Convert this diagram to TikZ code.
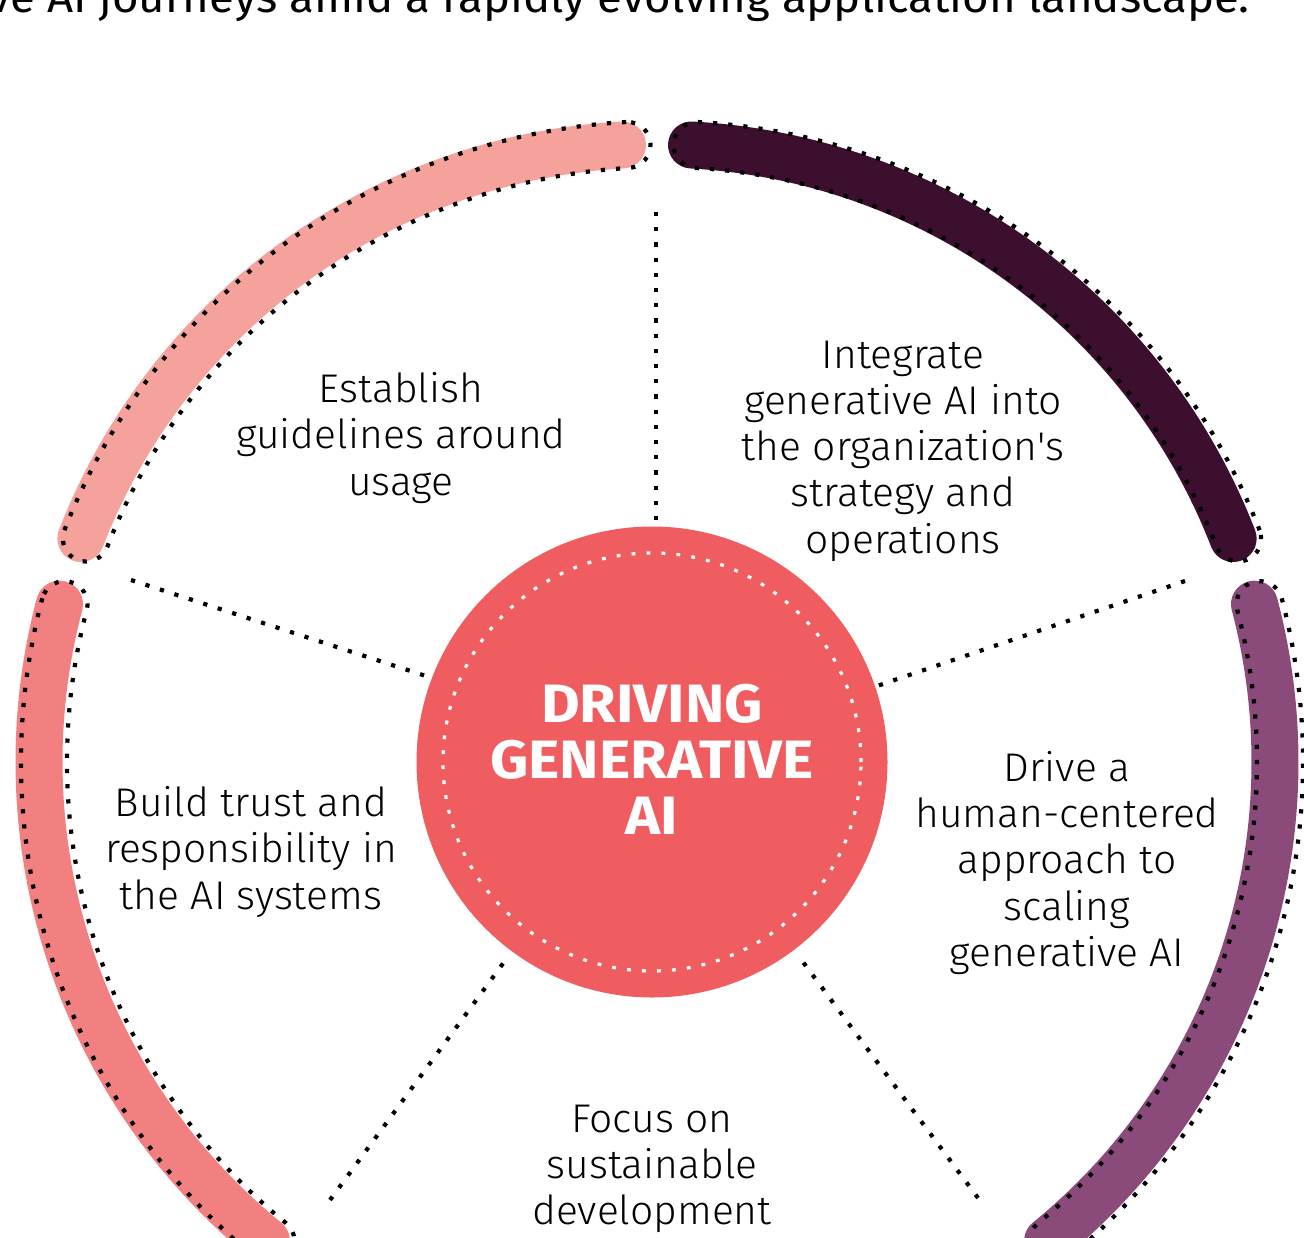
\documentclass[tikz,border=0pt]{standalone}
\usepackage{fontspec}
\setmainfont{Fira Sans}[UprightFont=* Light, BoldFont=* Bold]
\newfontfamily\titlefont{Fira Sans}[FakeStretch=1.06]
\newfontfamily\lightfont{Fira Sans Light}[FakeStretch=1.02]
\newfontfamily\corefont{Fira Sans Bold}[FakeStretch=1.1]
\usetikzlibrary{calc}
\definecolor{cA}{HTML}{F5A19C}
\definecolor{cB}{HTML}{F28080}
\definecolor{cD}{HTML}{8A4A7A}
\definecolor{cE}{HTML}{3D0F2E}
\definecolor{cCore}{HTML}{F05D60}
\newcommand\mybandarc[3]{%
  \draw[band, draw=#1] ($(Cb)+(#2:618)$) arc[start angle=#2, end angle=#3, radius=618];
  \draw[dotline] ($(Cd)+(#2:641)$) arc[start angle=#2, end angle=#3, radius=641]
     arc[start angle=#3, end angle=#3+180, radius=23]
     arc[start angle=#3, end angle=#2, radius=595]
     arc[start angle=#2+180, end angle=#2+360, radius=23] -- cycle;
}
\begin{document}
\begin{tikzpicture}[x=1pt,y=1pt,
  band/.style={line width=47pt, line cap=round},
  dotline/.style={draw=black, line width=4.2pt, dash pattern=on 4.2pt off 11pt},
  whitedots/.style={draw=white, line width=3.2pt, dash pattern=on 3.8pt off 11.2pt},
  lbl/.style={align=center, font=\lightfont\fontsize{40}{46.3}\selectfont, inner sep=0pt, text=black},
  coretext/.style={align=center, font=\corefont\fontsize{54}{56.3}\selectfont, inner sep=0pt, text=white},
]
\useasboundingbox (0,-1238) rectangle (1304,0);
\clip (0,-1238) rectangle (1304,0);
\coordinate (Cb) at (657,-762);
\coordinate (Cd) at (662,-762);
\coordinate (C) at (652,-762);

% title (cut by the top edge)
\node[anchor=base east, inner sep=0pt, font=\titlefont\fontsize{43}{48}\selectfont] (title) at (1250,-13) {ve AI journeys amid a rapidly evolving application landscape.};

% outer bands
\mybandarc{cA}{93.2}{158.8}
\mybandarc{cB}{165.2}{230.8}
\mybandarc{cD}{-50.8}{14.8}
\mybandarc{cE}{21.2}{86.8}

% dividers
\draw[dotline] (656,-212) -- (656,-522);
\draw[dotline] (131,-580) -- (432,-678);
\draw[dotline] (1185,-581) -- (877,-686);
\draw[dotline] (330,-1200) -- (507,-958);
\draw[dotline] (978,-1198) -- (800,-958);

% core
\node[circle, fill=cCore, minimum size=471pt, inner sep=0pt] (core) at (C) {};
\draw[whitedots] (C) circle[radius=209];
\node[coretext] (coretxt) at (652,-759.5) {DRIVING\\GENERATIVE\\AI};

% labels
\node[lbl] (usage) at (401,-438) {Establish\\guidelines around\\usage};
\node[lbl] (integrate) at (903,-451) {Integrate\\generative AI into\\the organization's\\strategy and\\operations};
\node[lbl] (trust) at (251,-852) {Build trust and\\responsibility in\\the AI systems};
\node[lbl] (human) at (1067,-863) {Drive a\\human-centered\\approach to\\scaling\\generative AI};
\node[lbl] (focus) at (652,-1169) {Focus on\\sustainable\\development};
\end{tikzpicture}
\end{document}
